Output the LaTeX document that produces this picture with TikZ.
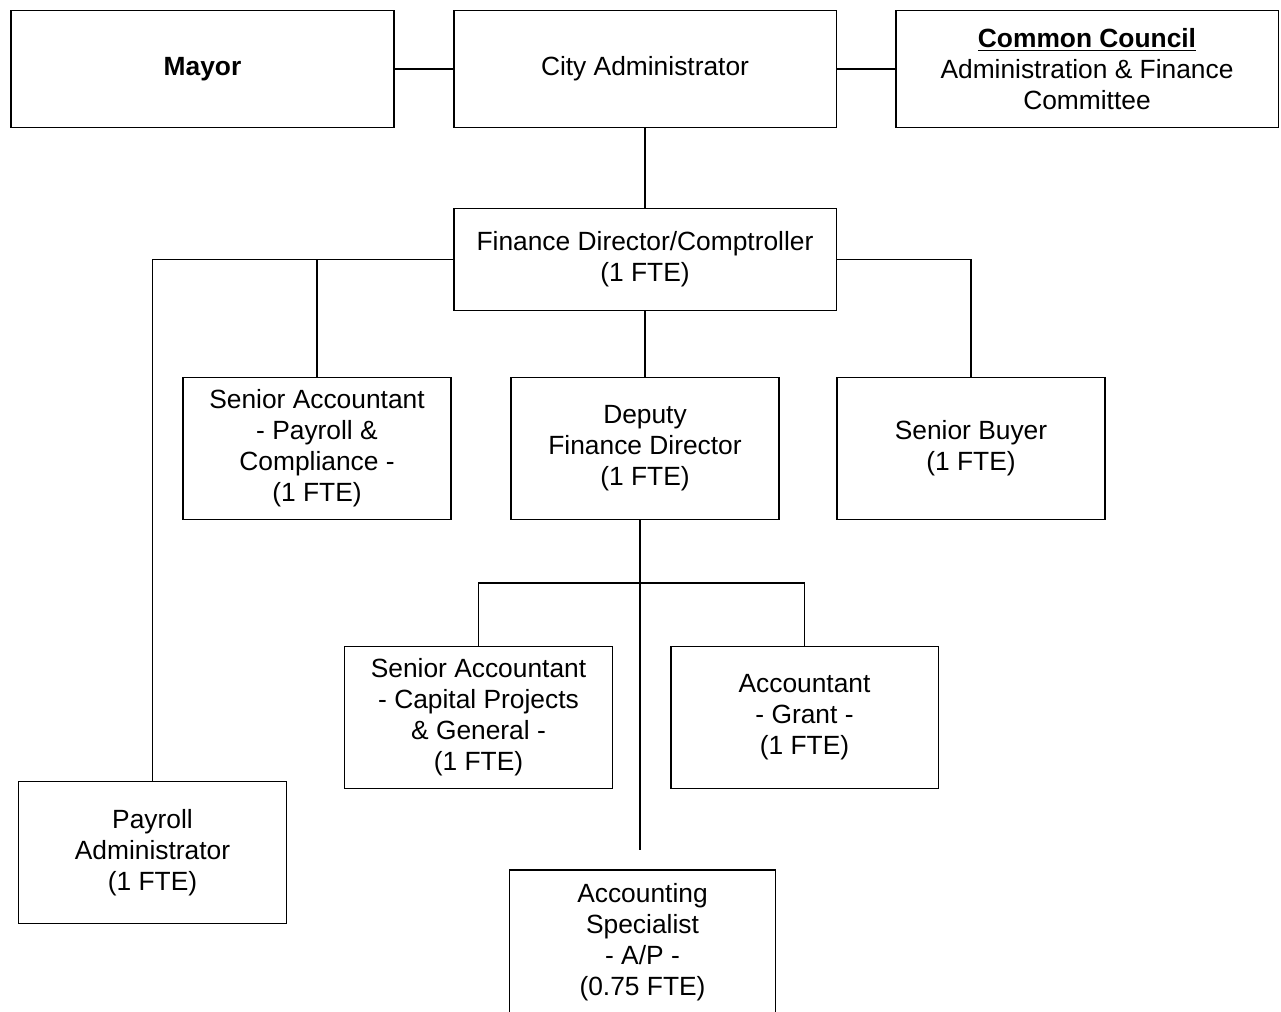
\documentclass[tikz,border=0pt]{standalone}
\usepackage{fontspec}
\setmainfont{Liberation Sans}
\usepackage{tikz}
\usetikzlibrary{shapes,calc,positioning}
\tikzset{box/.style={draw, rectangle, line width=1.1pt, align=center, text centered, font=\fontsize{15}{17.6}\selectfont}}
\tikzset{wide/.style={box, minimum width=7.66cm, minimum height=2.34cm}}
\tikzset{small/.style={box, minimum width=5.36cm, minimum height=2.84cm}}
\tikzset{line/.style={draw, line width=1.1pt}}

\begin{document}
\begin{tikzpicture}[x=0.02cm,y=-0.02cm]
			\useasboundingbox (0,0) rectangle (1281,1011);
			\clip (0,0) rectangle (1281,1011);
			\node [wide]                         at (202.5,69)   (m)    {\textbf{Mayor}};
			\node [wide]                         at (645,69)     (ca)   {City Administrator};
			\node [wide]                         at (1087,69)    (cc)   {\underline{\textbf{Common Council}}\\ Administration \& Finance\\ Committee};
			\node [wide, minimum height=2.04cm]  at (645,259.5)  (fd)   {Finance Director/Comptroller\\ (1 FTE)};
			\node [small]                        at (317,448.5)  (s1)   {Senior Accountant\\ - Payroll \&\\ Compliance -\\ (1 FTE)};
			\node [small]                        at (645,448.5)  (d)    {Deputy\\ Finance Director\\ (1 FTE)};
			\node [small]                        at (971,448.5)  (s2)   {Senior Buyer\\ (1 FTE)};
			\node [small]                        at (478.5,717.5) (d1)  {Senior Accountant\\ - Capital Projects\\ \& General -\\ (1 FTE)};
			\node [small]                        at (804.5,717.5) (d2)  {Accountant\\ - Grant -\\ (1 FTE)};
			\node [small]                        at (152.5,852.5) (p)   {Payroll\\ Administrator\\ (1 FTE)};
			\node [small, minimum width=5.32cm, minimum height=2.9cm] at (642.5,942.5) (d3) {Accounting\\ Specialist\\ - A/P -\\ (0.75 FTE)};
			\coordinate (j) at (640,583);
			\coordinate (e) at (640,850);
			%
			\path [line] (m)  --  (ca);
			\path [line] (ca) --  (cc);
			\path [line] (ca) --  (fd);
			\path [line] (fd.west) -| (p.north);
			\path [line] (fd.west) -| (s1.north);
			\path [line] (fd.east) -| (s2.north);
			\path [line] (fd) --  (d);
			\path [line] (d.south -| j) -- (e);
			\path [line] (d1.north) |- (j) -| (d2.north);
			\end{tikzpicture}
\end{document}
